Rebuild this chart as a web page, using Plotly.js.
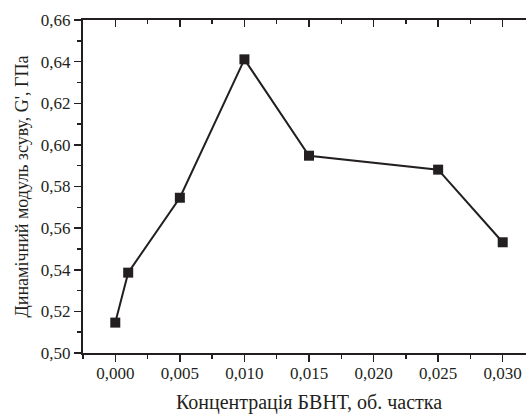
<!DOCTYPE html>
<html>
<head>
<meta charset="utf-8">
<script src="https://cdn.plot.ly/plotly-3.0.1.min.js"></script>
<style>
html,body{margin:0;padding:0;overflow:hidden;background:#fff;}
#chart{width:536px;height:414px;}
#chart svg text{font-family:'Liberation Serif' !important;}
</style>
</head>
<body>
<div id="chart"></div>
<script>
const concentration = [0.000, 0.001, 0.005, 0.010, 0.015, 0.025, 0.030];
const shearModulus = [0.5146, 0.5386, 0.5746, 0.6411, 0.5948, 0.5881, 0.5532];
const xTitle = 'Концентрація БВНТ, об. частка';
const yTitle = "Динамічний модуль зсуву, G', ГПа";

const ink = '#231f20';
const font = 'Liberation Serif';

const trace = {
  x: concentration,
  y: shearModulus,
  type: 'scatter',
  mode: 'lines+markers',
  line: {color: ink, width: 2},
  marker: {symbol: 'square', size: 10, color: ink},
  showlegend: false
};

const topAxisHelper = {
  x: [concentration[0]], y: [shearModulus[0]], xaxis: 'x2', yaxis: 'y',
  mode: 'markers', marker: {opacity: 0}, hoverinfo: 'skip', showlegend: false
};

const layout = {
  width: 536,
  height: 414,
  margin: {l: 83, r: 1, t: 20, b: 61, pad: 0},
  paper_bgcolor: '#fff',
  plot_bgcolor: '#fff',
  separators: ', ',
  font: {family: font, color: ink, size: 17},
  xaxis: {
    range: [-0.0025, 0.0325],
    dtick: 0.005,
    tick0: 0,
    tickformat: '.3f',
    ticks: 'outside',
    ticklen: 7,
    tickwidth: 1.5,
    tickcolor: ink,
    ticklabelstandoff: -3,
    showline: true,
    linecolor: ink,
    linewidth: 2,
    showgrid: false,
    zeroline: false,
    tickfont: {family: font, size: 17, color: ink},
    minor: {dtick: 0.0025, tick0: 0, ticks: 'outside', ticklen: 4, tickwidth: 1.5, tickcolor: ink, showgrid: false},
    title: {text: xTitle, font: {family: font, size: 20, color: ink}, standoff: 13}
  },
  xaxis2: {
    overlaying: 'x',
    side: 'top',
    range: [-0.0025, 0.0325],
    dtick: 0.005,
    tick0: 0,
    ticks: 'inside',
    ticklen: 7,
    tickwidth: 1.5,
    tickcolor: ink,
    showticklabels: false,
    showline: true,
    linecolor: ink,
    linewidth: 2,
    showgrid: false,
    zeroline: false,
    minor: {dtick: 0.0025, tick0: 0, ticks: 'inside', ticklen: 4, tickwidth: 1.5, tickcolor: ink, showgrid: false}
  },
  yaxis: {
    range: [0.50, 0.66],
    dtick: 0.02,
    tick0: 0.5,
    tickformat: '.2f',
    ticks: 'outside',
    ticklen: 7,
    tickwidth: 1.5,
    tickcolor: ink,
    showline: true,
    linecolor: ink,
    linewidth: 2,
    showgrid: false,
    zeroline: false,
    tickfont: {family: font, size: 17, color: ink},
    minor: {dtick: 0.01, tick0: 0.5, ticks: 'outside', ticklen: 4, tickwidth: 1.5, tickcolor: ink, showgrid: false},
    title: {text: yTitle, font: {family: font, size: 18, color: ink}, standoff: 8}
  }
};

Plotly.newPlot('chart', [trace, topAxisHelper], layout, {displayModeBar: false, staticPlot: true});
</script>
</body>
</html>
